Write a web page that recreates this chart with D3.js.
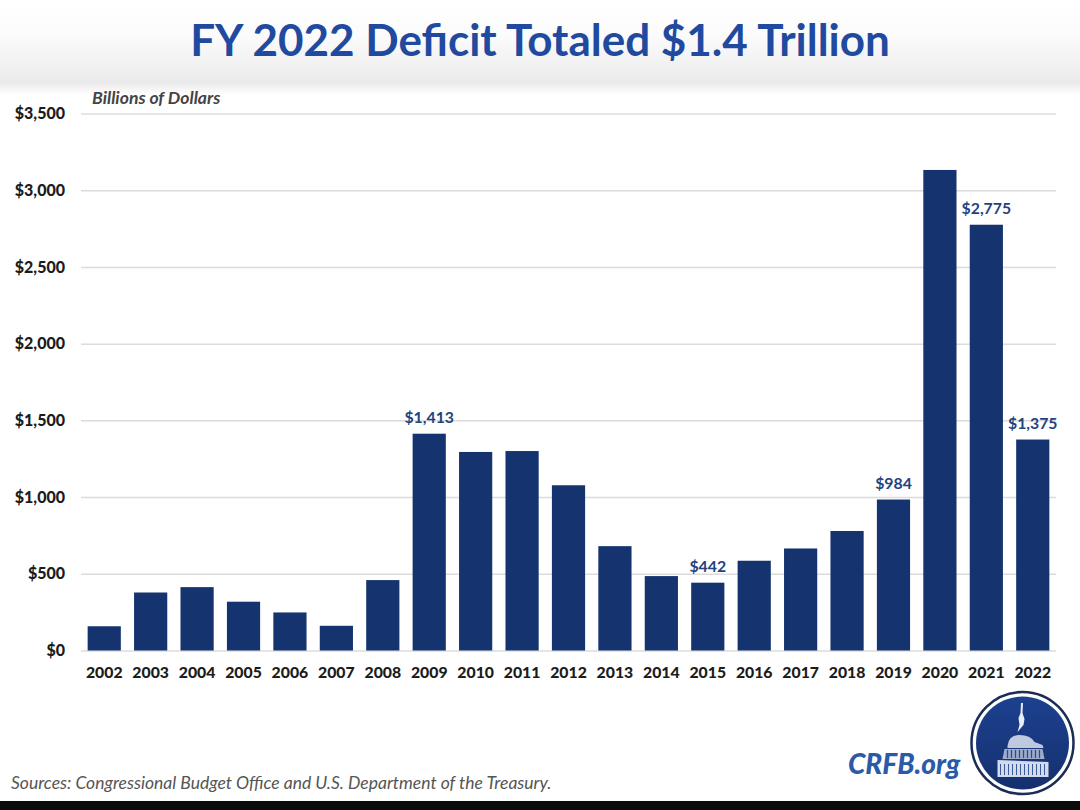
<!DOCTYPE html>
<html><head><meta charset="utf-8">
<script src="https://cdn.jsdelivr.net/npm/d3@7"></script>
<style>html,body{margin:0;padding:0;background:#fff}svg{display:block}text{font-family:Lato,"Open Sans",sans-serif}</style>
</head><body><svg id="c" width="1080" height="810"></svg>
<script>
const years=["2002","2003","2004","2005","2006","2007","2008","2009","2010","2011","2012","2013","2014","2015","2016","2017","2018","2019","2020","2021","2022"];
const deficits=[158,378,413,318,248,161,459,1413,1294,1300,1077,680,485,442,585,665,779,984,3132,2775,1375];
const labelledYears=["2009","2015","2019","2021","2022"];
const yTicks=[0,500,1000,1500,2000,2500,3000,3500];
const svg=d3.select("#c");
const defs=svg.append("defs");
const g1=defs.append("linearGradient").attr("id","hdr").attr("x1",0).attr("x2",0).attr("y1",0).attr("y2",1);
g1.append("stop").attr("offset","0%").attr("stop-color","#ffffff");
g1.append("stop").attr("offset","45%").attr("stop-color","#fbfbfb");
g1.append("stop").attr("offset","100%").attr("stop-color","#ebebeb");
const g2=defs.append("linearGradient").attr("id","logo").attr("x1",0).attr("x2",0).attr("y1",0).attr("y2",1);
g2.append("stop").attr("offset","0%").attr("stop-color","#1d4190");
g2.append("stop").attr("offset","100%").attr("stop-color","#15306e");
const g3=defs.append("linearGradient").attr("id","shade").attr("x1",0).attr("x2",0).attr("y1",0).attr("y2",1);
g3.append("stop").attr("offset","0%").attr("stop-color","#e8e8e8");
g3.append("stop").attr("offset","100%").attr("stop-color","#ffffff");
svg.append("rect").attr("width",1080).attr("height",81).attr("fill","url(#hdr)");
svg.append("rect").attr("y",81).attr("width",1080).attr("height",14).attr("fill","url(#shade)");
svg.append("rect").attr("y",801).attr("width",1080).attr("height",9).attr("fill","#0c0c0c");
svg.append("text").attr("x",540).attr("y",56).attr("text-anchor","middle").attr("font-size",44).attr("font-weight",700).attr("fill","#1f4aa0").text("FY 2022 Deficit Totaled $1.4 Trillion");

const x=d3.scaleBand().domain(years).range([81,1056]).paddingInner(0.285).paddingOuter(0.143);
const y=d3.scaleLinear().domain([0,3500]).range([650.5,113.5]);
const yAxis=d3.axisLeft(y).tickValues(yTicks).tickSize(-975).tickPadding(16).tickFormat(d=>"$"+d3.format(",")(d));
const ya=svg.append("g").attr("transform","translate(81,0)").call(yAxis);
ya.select(".domain").remove();
ya.selectAll("line").attr("stroke","#dcdcdc").attr("stroke-width",1.5);
ya.selectAll("text").attr("font-size",16).attr("font-weight",900).attr("fill","#1c1c1c");
const xAxis=d3.axisBottom(x).tickSize(0).tickPadding(16);
const xa=svg.append("g").attr("transform","translate(0,651)").call(xAxis);
xa.select(".domain").remove();
xa.selectAll("text").attr("font-size",15.8).attr("font-weight",900).attr("fill","#1c1c1c");
const rows=years.map((yr,i)=>({yr,v:deficits[i]}));
svg.append("g").selectAll("rect").data(rows).join("rect")
 .attr("x",d=>x(d.yr)).attr("width",x.bandwidth()).attr("y",d=>y(d.v)).attr("height",d=>y(0)-y(d.v)).attr("fill","#14336f");
svg.append("g").selectAll("text").data(rows.filter(d=>labelledYears.includes(d.yr))).join("text")
 .attr("x",d=>x(d.yr)+x.bandwidth()/2).attr("y",d=>y(d.v)-10.5).attr("text-anchor","middle")
 .attr("font-size",15.8).attr("font-weight",700).attr("fill","#1f437f").text(d=>"$"+d3.format(",")(d.v));
svg.append("text").attr("x",92).attr("y",104).attr("font-size",17.6).attr("font-weight",700).attr("font-style","italic").attr("fill","#444").text("Billions of Dollars");
svg.append("text").attr("x",11).attr("y",789).attr("font-size",17.5).attr("font-style","italic").attr("fill","#555").text("Sources: Congressional Budget Office and U.S. Department of the Treasury.");
svg.append("text").attr("x",848).attr("y",774).attr("font-size",28).attr("font-weight",900).attr("font-style","italic").attr("fill","#2a5aa8").text("CRFB.org");
const L=svg.append("g").attr("transform","translate(1022.5,743)");
L.append("circle").attr("r",51).attr("fill","#fff").attr("stroke","#1b2c55").attr("stroke-width",2.5);
L.append("circle").attr("r",46.5).attr("fill","url(#logo)");
const w="#e8edf6";
L.append("path").attr("fill",w).attr("d","M-1.5,-40 L0.5,-40 L0,-30 L2,-24 L1,-18 L-5,-11 L-3,-18 L-4,-25 L-2,-30 Z");
L.append("path").attr("fill",w).attr("opacity",.8).attr("d","M-15,3 Q-14,-8 -3,-8 Q8,-8 12,-1 L20,2 L21,5 L-15,5 Z");
L.append("path").attr("fill",w).attr("opacity",.65).attr("d","M-18,6 L20,6 L22,16 L-20,16 Z");
L.append("path").attr("fill",w).attr("opacity",.9).attr("d","M-25,17 L26,19 L26,34 L-25,34 Z");
const bigCols=[-22,-18,-14,-10,-6,-2,2,6,10,14,18,22];
L.append("g").selectAll("line").data(bigCols).join("line").attr("x1",d=>d).attr("x2",d=>d).attr("y1",21).attr("y2",32).attr("stroke","#3a5a9c").attr("stroke-width",1);
const smallCols=[-15,-11,-7,-3,1,5,9,13,17];
L.append("g").selectAll("line").data(smallCols).join("line").attr("x1",d=>d).attr("x2",d=>d).attr("y1",7).attr("y2",15).attr("stroke","#2a4a90").attr("stroke-width",1.3);
</script></body></html>
